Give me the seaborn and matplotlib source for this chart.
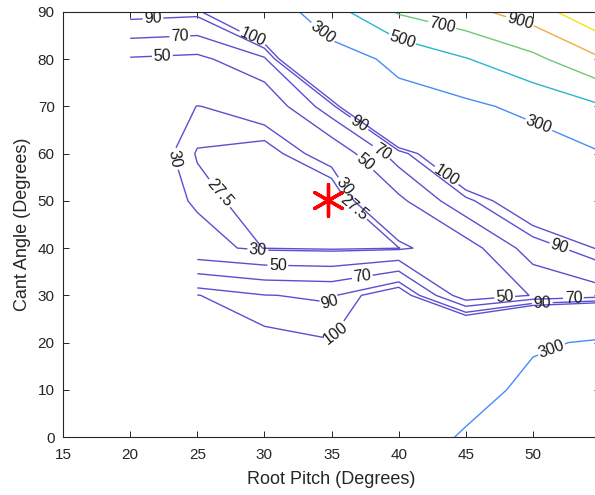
import numpy as np
import seaborn as sns
import matplotlib
matplotlib.use("Agg")
import matplotlib.pyplot as plt

# grid of the response surface (columns = root pitch, rows = cant angle)
root_pitch = [20, 25, 30, 35, 40, 45, 50, 55]
cant_angle = [0, 10, 20, 30, 40, 50, 60, 70, 80, 90]
nan = np.nan
z_rp20 = [nan, nan, nan, nan, 40, 38, 35, 40, 48, 98]
z_rp25 = [160, 150, 130, 100.5, 34, 28.7, 27.2, 29.8, 45, 95]
z_rp30 = [160, 140, 105, 90.5, 27.3, 25.8, 25.4, 33, 66, 170]
z_rp35 = [180, 150, 101, 88, 26, 22.5, 33, 82, 220, 420]
z_rp40 = [200, 180, 150, 115, 27.3, 45, 80, 240, 340, 720]
z_rp45 = [320, 230, 190, 34, 40, 85, 150, 261, 490, 840]
z_rp50 = [450, 345, 280, 51, 80, 122, 200, 350, 650, 1000]
z_rp55 = [500, 380, 318, 60, 102, 180, 290, 480, 880, 1280]

levels = [27.5, 30, 50, 70, 90, 100, 300, 500, 700, 900, 1100]
level_colors = ['#5a50cf'] * 6 + ['#468cf8', '#28b4d2', '#6ec878', '#f0aa46', '#f5e11e']

# optimum point
opt_pitch = [34.7]
opt_cant = [50.2]

# where the contour labels sit
label_pos = [(21.7, 88.3), (23.7, 84.7), (22.4, 80.4), (29.1, 84.5),
             (23.1, 58.7), (26.5, 51.2), (29.5, 39.6), (31.0, 36.2),
             (37.3, 33.7), (34.9, 29.0), (35.6, 21.0), (34.3, 85.5),
             (40.2, 83.4), (43.2, 86.6), (49.0, 87.7), (50.4, 65.7),
             (37.1, 66.5), (38.6, 59.7), (37.5, 58.0), (43.6, 55.5),
             (35.9, 52.8), (36.7, 48.6), (51.9, 39.6), (53.0, 31.0),
             (47.9, 29.6), (50.7, 28.4), (51.4, 18.4)]

sns.set_theme(style="white")
plt.rcParams['font.family'] = ['Liberation Sans', 'DejaVu Sans']

Z = np.column_stack([z_rp20, z_rp25, z_rp30, z_rp35, z_rp40, z_rp45, z_rp50, z_rp55])
X, Y = np.meshgrid(root_pitch, cant_angle)

fig = plt.figure(figsize=(5.95, 4.95), dpi=100)
ax = fig.add_axes([0.106, 0.117, 0.9025, 0.859])

cs = ax.contour(X, Y, np.ma.masked_invalid(Z), levels=levels, corner_mask=False,
                colors=level_colors, linewidths=1.0)
ax.clabel(cs, fmt='%g', manual=label_pos, fontsize=11.5, inline=True,
          inline_spacing=3, colors='#1a1a1a')

sns.scatterplot(x=opt_pitch, y=opt_cant, marker=(6, 2, 0), s=520,
                color='red', linewidth=2.4, ax=ax, zorder=5, legend=False)

ax.set_xlim(15, 55)
ax.set_ylim(0, 90)
ax.set_xticks(range(15, 55, 5))
ax.set_yticks(range(0, 91, 10))
ax.tick_params(direction='in', length=4, width=0.7, colors='#262626',
               labelsize=11, top=True, right=True, bottom=True, left=True)
ax.tick_params(axis='x', pad=8)
ax.tick_params(axis='y', pad=6)
for s in ax.spines.values():
    s.set_color('#262626')
    s.set_linewidth(0.8)

ax.set_xlabel('Root Pitch (Degrees)', fontsize=13, color='#262626', labelpad=6)
ax.set_ylabel('Cant Angle (Degrees)', fontsize=13, color='#262626', labelpad=5)

fig.savefig('out.png', dpi=100)
